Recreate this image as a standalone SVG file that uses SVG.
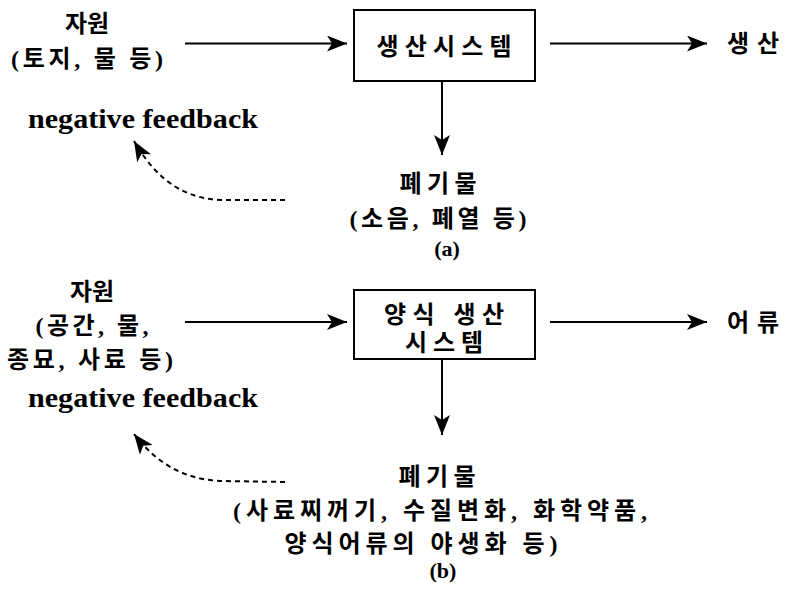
<svg xmlns="http://www.w3.org/2000/svg" width="791" height="591" viewBox="0 0 791 591">
<style>
.k{font-family:"Liberation Serif","Noto Sans CJK KR",serif;font-weight:bold;font-size:24px;fill:#000;text-anchor:middle}
.e{font-family:"Liberation Serif","DejaVu Serif",serif;font-weight:bold;font-size:27px;fill:#000}
.box{fill:#fff;stroke:#000;stroke-width:2}
.ln{fill:none;stroke:#000;stroke-width:2}
.ds{fill:none;stroke:#000;stroke-width:2;stroke-dasharray:5,4}
</style>
<defs>
<marker id="ah" viewBox="0 0 20 16" refX="20" refY="8" markerWidth="20" markerHeight="16" markerUnits="userSpaceOnUse" orient="auto">
<path d="M0,0 L20,8 L0,16 L5,8 Z" fill="#000"/>
</marker>
</defs>
<g id="connectors">
<line class="ln" x1="185" y1="43.5" x2="347" y2="43.5" marker-end="url(#ah)"/>
<line class="ln" x1="550" y1="43.5" x2="707" y2="43.5" marker-end="url(#ah)"/>
<line class="ln" x1="442" y1="81" x2="442" y2="155" marker-end="url(#ah)"/>
<path class="ds" d="M285,200 L220,200 C185,198 158,182 134,141" marker-end="url(#ah)"/>
<line class="ln" x1="185" y1="322" x2="347" y2="322" marker-end="url(#ah)"/>
<line class="ln" x1="550" y1="322" x2="707" y2="322" marker-end="url(#ah)"/>
<line class="ln" x1="442" y1="359" x2="442" y2="435" marker-end="url(#ah)"/>
<path class="ds" d="M285,482 L220,481 C185,479 158,465 134,434" marker-end="url(#ah)"/>
</g>
<g id="a-resource">
<text class="k" x="87" y="32">자원</text>
<text class="k" x="87" y="67" textLength="152" lengthAdjust="spacing">(토지, 물 등)</text>
</g>
<g id="a-system">
<rect class="box" x="354" y="10" width="181" height="71"/>
<text class="k" x="444" y="55" textLength="135" lengthAdjust="spacing">생산시스템</text>
</g>
<g id="a-product">
<text class="k" x="753" y="52" textLength="52" lengthAdjust="spacing">생산</text>
</g>
<g id="a-feedback">
<text class="e" x="28" y="128" textLength="230" lengthAdjust="spacingAndGlyphs">negative feedback</text>
</g>
<g id="a-waste">
<text class="k" x="438" y="192" textLength="77" lengthAdjust="spacing">폐기물</text>
<text class="k" x="438" y="227" textLength="177" lengthAdjust="spacing">(소음, 폐열 등)</text>
<text class="e" x="447" y="256" style="text-anchor:middle;font-size:22px">(a)</text>
</g>
<g id="b-resource">
<text class="k" x="92" y="300">자원</text>
<text class="k" x="92" y="334" textLength="113" lengthAdjust="spacing">(공간, 물,</text>
<text class="k" x="90" y="368" textLength="166" lengthAdjust="spacing">종묘, 사료 등)</text>
</g>
<g id="b-system">
<rect class="box" x="354" y="290" width="181" height="69"/>
<text class="k" x="444" y="323" textLength="120" lengthAdjust="spacing">양식 생산</text>
<text class="k" x="444" y="351" textLength="78" lengthAdjust="spacing">시스템</text>
</g>
<g id="b-product">
<text class="k" x="753" y="331" textLength="52" lengthAdjust="spacing">어류</text>
</g>
<g id="b-feedback">
<text class="e" x="28" y="407" textLength="230" lengthAdjust="spacingAndGlyphs">negative feedback</text>
</g>
<g id="b-waste">
<text class="k" x="437" y="485" textLength="77" lengthAdjust="spacing">폐기물</text>
<text class="k" x="440" y="519" textLength="414" lengthAdjust="spacing">(사료찌꺼기, 수질변화, 화학약품,</text>
<text class="k" x="421" y="552" textLength="273" lengthAdjust="spacing">양식어류의 야생화 등)</text>
<text class="e" x="443" y="578" style="text-anchor:middle;font-size:22px">(b)</text>
</g>
</svg>
